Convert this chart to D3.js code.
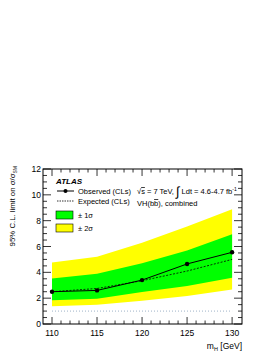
<!DOCTYPE html>
<html>
<head>
<meta charset="utf-8">
<script src="https://cdn.jsdelivr.net/npm/d3@7"></script>
<style>
body { margin: 0; background: #fff; }
svg text { font-family: "Liberation Sans", Arial, sans-serif; fill: #000; }
</style>
</head>
<body>
<div id="chart"></div>
<script>
var masses = [110, 115, 120, 125, 130];
var observed = [2.5, 2.6, 3.4, 4.65, 5.55];
var expected = [2.5, 2.75, 3.35, 4.1, 5.0];
var band1Lo = [1.83, 1.96, 2.48, 2.95, 3.58];
var band1Hi = [3.53, 3.9, 4.7, 5.7, 6.95];
var band2Lo = [1.37, 1.5, 1.8, 2.17, 2.68];
var band2Hi = [4.77, 5.2, 6.3, 7.55, 8.88];
var xTicks = [110, 115, 120, 125, 130];
var yTicks = [0, 2, 4, 6, 8, 10, 12];

var width = 277, height = 358;
var pLeft = 43, pRight = 242, pTop = 169, pBottom = 324;

var svg = d3.select("#chart").append("svg")
  .attr("width", width).attr("height", height);

var x = d3.scaleLinear().domain([109, 131.1]).range([pLeft, pRight]);
var y = d3.scaleLinear().domain([0, 12]).range([pBottom, pTop]);

var rows = masses.map(function (m, i) {
  return { m: m, obs: observed[i], exp: expected[i], l1: band1Lo[i], h1: band1Hi[i], l2: band2Lo[i], h2: band2Hi[i] };
});

var area2 = d3.area().x(function (d) { return x(d.m); })
  .y0(function (d) { return y(d.l2); }).y1(function (d) { return y(d.h2); });
var area1 = d3.area().x(function (d) { return x(d.m); })
  .y0(function (d) { return y(d.l1); }).y1(function (d) { return y(d.h1); });

svg.append("path").datum(rows).attr("d", area2).attr("fill", "#ffff00");
svg.append("path").datum(rows).attr("d", area1).attr("fill", "#00ff00");

// SM reference line at 1
svg.append("line")
  .attr("x1", x(110)).attr("x2", x(130))
  .attr("y1", y(1)).attr("y2", y(1))
  .attr("stroke", "#9fb4c8").attr("stroke-width", 1)
  .attr("stroke-dasharray", "1,2");

var expLine = d3.line().x(function (d) { return x(d.m); }).y(function (d) { return y(d.exp); });
svg.append("path").datum(rows).attr("d", expLine)
  .attr("fill", "none").attr("stroke", "#000").attr("stroke-width", 0.8)
  .attr("stroke-dasharray", "2,1.5");

var obsLine = d3.line().x(function (d) { return x(d.m); }).y(function (d) { return y(d.obs); });
svg.append("path").datum(rows).attr("d", obsLine)
  .attr("fill", "none").attr("stroke", "#000").attr("stroke-width", 1);

svg.selectAll("circle.obs").data(rows).enter().append("circle")
  .attr("class", "obs")
  .attr("cx", function (d) { return x(d.m); })
  .attr("cy", function (d) { return y(d.obs); })
  .attr("r", 2.2).attr("fill", "#000");

// frame
svg.append("rect").attr("x", pLeft).attr("y", pTop)
  .attr("width", pRight - pLeft).attr("height", pBottom - pTop)
  .attr("fill", "none").attr("stroke", "#000").attr("stroke-width", 1);

// ticks
var g = svg.append("g").attr("stroke", "#000").attr("stroke-width", 0.8);
d3.range(0, 12.01, 0.5).forEach(function (v) {
  var major = Math.abs(v % 2) < 1e-6;
  var len = major ? 8 : 4;
  g.append("line").attr("x1", pLeft).attr("x2", pLeft + len).attr("y1", y(v)).attr("y2", y(v));
  g.append("line").attr("x1", pRight).attr("x2", pRight - len).attr("y1", y(v)).attr("y2", y(v));
});
d3.range(110, 131, 1).forEach(function (v) {
  var major = v % 5 === 0;
  var len = major ? 7 : 3.5;
  g.append("line").attr("y1", pBottom).attr("y2", pBottom - len).attr("x1", x(v)).attr("x2", x(v));
  g.append("line").attr("y1", pTop).attr("y2", pTop + len).attr("x1", x(v)).attr("x2", x(v));
});

svg.selectAll("text.xt").data(xTicks).enter().append("text")
  .attr("class", "xt")
  .attr("x", function (d) { return x(d); }).attr("y", pBottom + 12)
  .attr("text-anchor", "middle").attr("font-size", 8.5)
  .text(function (d) { return d; });

svg.selectAll("text.yt").data(yTicks).enter().append("text")
  .attr("class", "yt")
  .attr("x", pLeft - 2).attr("y", function (d) { return y(d) + 3; })
  .attr("text-anchor", "end").attr("font-size", 8.5)
  .text(function (d) { return d; });

// axis titles
var xt = svg.append("text").attr("x", pRight).attr("y", 349)
  .attr("text-anchor", "end").attr("font-size", 8.5);
xt.append("tspan").text("m");
xt.append("tspan").attr("font-size", 5.5).attr("dy", 2).text("H");
xt.append("tspan").attr("dy", -2).text(" [GeV]");

var yt = svg.append("text").attr("transform", "translate(15,166) rotate(-90)")
  .attr("x", 0).attr("text-anchor", "end").attr("font-size", 7.8);
yt.append("tspan").text("95% C.L. limit on σ/σ");
yt.append("tspan").attr("font-size", 5).attr("dy", 2).text("SM");

// legend
svg.append("text").attr("x", 56).attr("y", 184)
  .attr("font-size", 8).attr("font-weight", "bold").attr("font-style", "italic")
  .text("ATLAS");

svg.append("line").attr("x1", 57).attr("x2", 74).attr("y1", 191).attr("y2", 191)
  .attr("stroke", "#000").attr("stroke-width", 1);
svg.append("circle").attr("cx", 65.5).attr("cy", 191).attr("r", 2).attr("fill", "#000");
svg.append("text").attr("x", 78).attr("y", 194).attr("font-size", 7.5).text("Observed (CLs)");

svg.append("line").attr("x1", 57).attr("x2", 74).attr("y1", 201).attr("y2", 201)
  .attr("stroke", "#000").attr("stroke-width", 0.8).attr("stroke-dasharray", "1.5,1");
svg.append("text").attr("x", 78).attr("y", 204).attr("font-size", 7.5).text("Expected (CLs)");

svg.append("rect").attr("x", 56).attr("y", 211).attr("width", 17).attr("height", 8)
  .attr("fill", "#00ff00").attr("stroke", "#000").attr("stroke-width", 0.6);
svg.append("text").attr("x", 78).attr("y", 218).attr("font-size", 7.5).text("± 1σ");

svg.append("rect").attr("x", 56).attr("y", 224).attr("width", 17).attr("height", 8)
  .attr("fill", "#ffff00").attr("stroke", "#000").attr("stroke-width", 0.6);
svg.append("text").attr("x", 78).attr("y", 231).attr("font-size", 7.5).text("± 2σ");

// energy / luminosity text
var t1 = svg.append("text").attr("x", 137).attr("y", 194).attr("font-size", 7.5);
t1.append("tspan").text("√");
t1.append("tspan").attr("text-decoration", "overline").text("s");
t1.append("tspan").text(" = 7 TeV, ");
t1.append("tspan").attr("font-size", 13).attr("dy", 2).text("∫");
t1.append("tspan").attr("dy", -2).text(" Ldt = 4.6-4.7 fb");
t1.append("tspan").attr("font-size", 5).attr("dy", -3).text("-1");

var t2 = svg.append("text").attr("x", 137).attr("y", 206).attr("font-size", 7.5);
t2.append("tspan").text("VH(b");
t2.append("tspan").attr("text-decoration", "overline").text("b");
t2.append("tspan").text("), combined");
</script>
</body>
</html>
